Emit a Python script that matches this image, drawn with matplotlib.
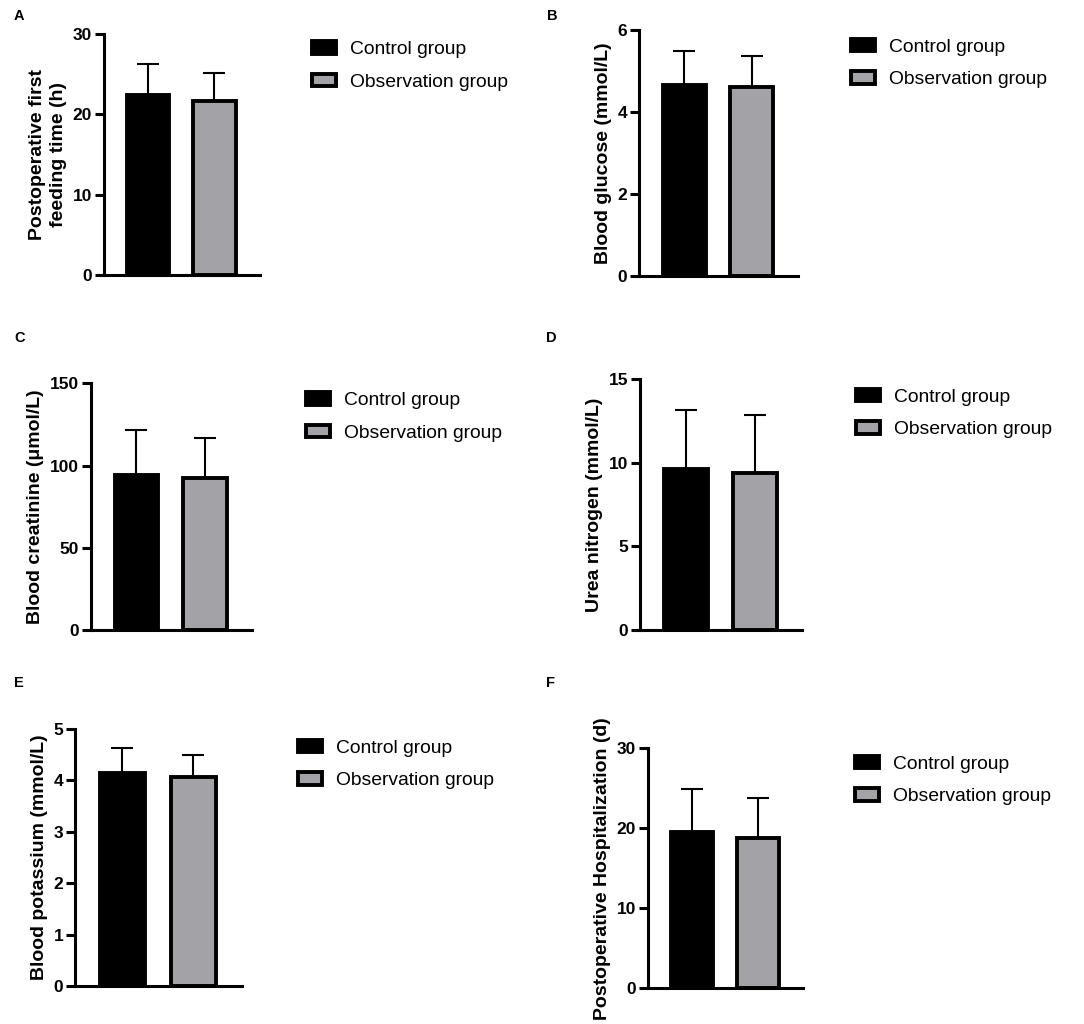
import matplotlib
matplotlib.use("Agg")
import matplotlib.pyplot as plt
import numpy as np

plt.rcParams['font.family'] = ['Liberation Sans', 'DejaVu Sans']

groups = ["Control group", "Observation group"]
bar_colors = ["#000000", "#a3a2a7"]

# Panel data: means and SDs (upper error)
feeding_mean = [22.4, 21.6]
feeding_sd = [3.9, 3.6]
glucose_mean = [4.66, 4.60]
glucose_sd = [0.83, 0.77]
creatinine_mean = [94.2, 92.6]
creatinine_sd = [27.2, 24.1]
urea_mean = [9.64, 9.36]
urea_sd = [3.53, 3.49]
potassium_mean = [4.15, 4.07]
potassium_sd = [0.49, 0.42]
hosp_mean = [19.6, 18.75]
hosp_sd = [5.3, 5.05]

panel_letters = ["A", "B", "C", "D", "E", "F"]
ylabels = ["Postoperative first\nfeeding time (h)", "Blood glucose (mmol/L)",
           "Blood creatinine (\u03bcmol/L)", "Urea nitrogen (mmol/L)",
           "Blood potassium (mmol/L)", "Postoperative Hospitalization (d)"]
yticks = [[0, 10, 20, 30], [0, 2, 4, 6], [0, 50, 100, 150], [0, 5, 10, 15],
          [0, 1, 2, 3, 4, 5], [0, 10, 20, 30]]
means = [feeding_mean, glucose_mean, creatinine_mean, urea_mean, potassium_mean, hosp_mean]
sds = [feeding_sd, glucose_sd, creatinine_sd, urea_sd, potassium_sd, hosp_sd]

W, H = 1084, 1024
fig = plt.figure(figsize=(W / 100, H / 100), dpi=100)

# axes rects in pixels: left, top, right, bottom
rects = [(104, 34, 260, 275), (639, 30, 798, 275.7), (90.7, 383.3, 252, 630),
         (640, 379, 802, 630), (75, 729, 242, 986), (648, 748.3, 803, 988.3)]
# legend anchor: handle left x, midpoint between rows y
leg_pos = [(312, 66), (851, 63.5), (306, 417), (856, 413.5), (298, 764.5), (855, 780.5)]
letter_pos = [(14, 16), (547, 16), (14, 338), (546, 338), (14, 683), (546, 683)]

x = np.arange(2)
for i in range(6):
    l, t, r, b = rects[i]
    ax = fig.add_axes([l / W, 1 - b / H, (r - l) / W, (b - t) / H])
    m = means[i]
    s = sds[i]
    ax.errorbar(x, m, yerr=[np.zeros(2), s], fmt='none', ecolor='black',
                elinewidth=1.5, capsize=8, capthick=1.5, zorder=1)
    bars = ax.bar(x, m, width=0.64, color=bar_colors, edgecolor='black',
                  linewidth=2.8, zorder=2)
    ax.set_xlim(-0.67, 1.69)
    ax.set_ylim(0, yticks[i][-1])
    ax.set_yticks(yticks[i])
    ax.set_xticks([])
    for sp in ['top', 'right']:
        ax.spines[sp].set_visible(False)
    for sp in ['left', 'bottom']:
        ax.spines[sp].set_linewidth(2.2)
    ax.tick_params(axis='y', width=2.2, length=6.5, labelsize=12.5, pad=2)
    for lab in ax.get_yticklabels():
        lab.set_fontweight('bold')
    ax.set_ylabel(ylabels[i], fontsize=14, fontweight='bold', labelpad=4,
                  linespacing=1.3)
    lx, ly = leg_pos[i]
    ax.legend(bars, groups, loc='center left', bbox_to_anchor=(lx / W, 1 - ly / H),
              bbox_transform=fig.transFigure, frameon=False, fontsize=13.9,
              handlelength=1.25, handleheight=0.62, handletextpad=0.72,
              labelspacing=0.82, borderpad=0, borderaxespad=0)
    fx, fy = letter_pos[i]
    fig.text(fx / W, 1 - fy / H, panel_letters[i], fontsize=10.5, fontweight='bold',
             ha='left', va='center')

fig.savefig("out.png", dpi=100)
